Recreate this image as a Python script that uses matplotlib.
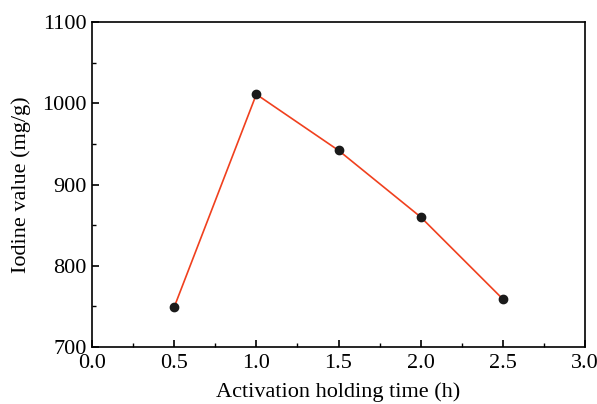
import numpy as np
import matplotlib
matplotlib.use('Agg')
import matplotlib.pyplot as plt
from matplotlib.ticker import MultipleLocator

# Data
hold_time = [0.5, 1.0, 1.5, 2.0, 2.5]
iodine = [749, 1011, 942, 860, 759]

plt.rc('font', family='Liberation Serif', size=16)
plt.rc('xtick', labelsize=16)
plt.rc('ytick', labelsize=16)
plt.rc('axes', linewidth=1.2)

fig = plt.figure(figsize=(5.97, 4.04), dpi=100)
ax = fig.add_axes([92 / 597, 1 - 347 / 404, (585 - 92) / 597, (347 - 22) / 404])
ax.plot(hold_time, iodine, color='#f0401e', linewidth=1.2, zorder=2)
ax.plot(hold_time, iodine, 'o', color='#1a1a1a', markersize=6, zorder=3)

ax.set_xlim(0, 3.0)
ax.set_ylim(700, 1100)
ax.xaxis.set_major_locator(MultipleLocator(0.5))
ax.xaxis.set_minor_locator(MultipleLocator(0.25))
ax.yaxis.set_major_locator(MultipleLocator(100))
ax.yaxis.set_minor_locator(MultipleLocator(50))
ax.xaxis.set_major_formatter(matplotlib.ticker.FormatStrFormatter('%.1f'))
ax.tick_params(which='both', direction='in', top=False, right=False)
ax.tick_params(which='major', length=5, width=1.2)
ax.tick_params(axis='x', which='major', pad=5)
ax.tick_params(axis='y', which='major', pad=4)
ax.tick_params(which='minor', length=3, width=1.0)
ax.set_xlabel('Activation holding time (h)', labelpad=7)
ax.set_ylabel('Iodine value (mg/g)', labelpad=8)

plt.savefig('out.png', dpi=100)
